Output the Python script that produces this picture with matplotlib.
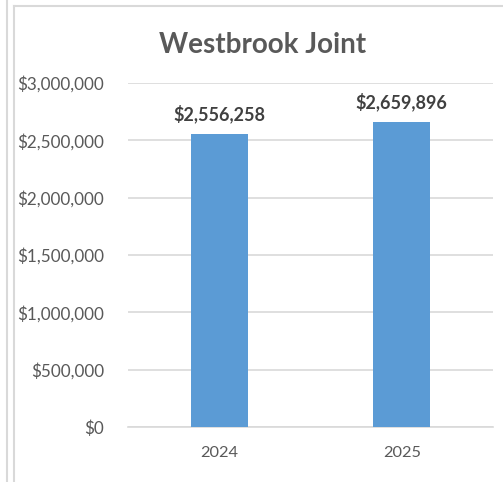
import matplotlib
matplotlib.use("Agg")
import matplotlib.pyplot as plt
from matplotlib.lines import Line2D
from matplotlib.ticker import FuncFormatter

categories = ["2024", "2025"]
values = [2556258, 2659896]
title = "Westbrook Joint"
y_ticks = [0, 500000, 1000000, 1500000, 2000000, 2500000, 3000000]

plt.rcParams["font.family"] = ["Lato", "DejaVu Sans"]

W, H = 503, 482
fig = plt.figure(figsize=(W / 100, H / 100), dpi=100)
fig.patch.set_facecolor("white")

ax = fig.add_axes([128 / W, 1 - 427 / H, (493 - 128) / W, (427 - 83) / H])
x = list(range(len(categories)))
ax.bar(x, values, width=0.31, color="#5B9BD5", zorder=3)
ax.set_xlim(-0.5, len(categories) - 0.5)
ax.set_ylim(0, 3000000)
ax.set_yticks(y_ticks)
ax.yaxis.set_major_formatter(FuncFormatter(lambda v, p: f"${v:,.0f}"))
ax.set_xticks(x)
ax.set_xticklabels(categories)
ax.grid(axis="y", color="#D9D9D9", linewidth=1.2, zorder=0)
for s in ["top", "right", "left"]:
    ax.spines[s].set_visible(False)
ax.spines["bottom"].set_color("#D9D9D9")
ax.spines["bottom"].set_linewidth(1.2)
ax.tick_params(axis="y", length=0, labelsize=12.3, colors="#595959", pad=17)
ax.tick_params(axis="x", length=0, labelsize=11.8, colors="#595959", pad=14)

for xi, v in zip(x, values):
    ax.annotate(f"${v:,.0f}", (xi, v), xytext=(0, 8), textcoords="offset points",
                ha="center", va="bottom", fontsize=13, fontweight="bold", color="#404040")

fig.text(263 / W, 1 - 45 / H, title, ha="center", va="center",
         fontsize=20, fontweight="bold", color="#595959")

# outer frame lines
fig.add_artist(Line2D([7 / W, 7 / W], [0, 1], color="#D9D9D9", linewidth=1.5))
fig.add_artist(Line2D([14 / W, 14 / W], [0, 1 - 6 / H], color="#D9D9D9", linewidth=1.5))
fig.add_artist(Line2D([14 / W, 1], [1 - 6 / H, 1 - 6 / H], color="#D9D9D9", linewidth=1.5))

fig.savefig("out.png", dpi=100, facecolor="white")
